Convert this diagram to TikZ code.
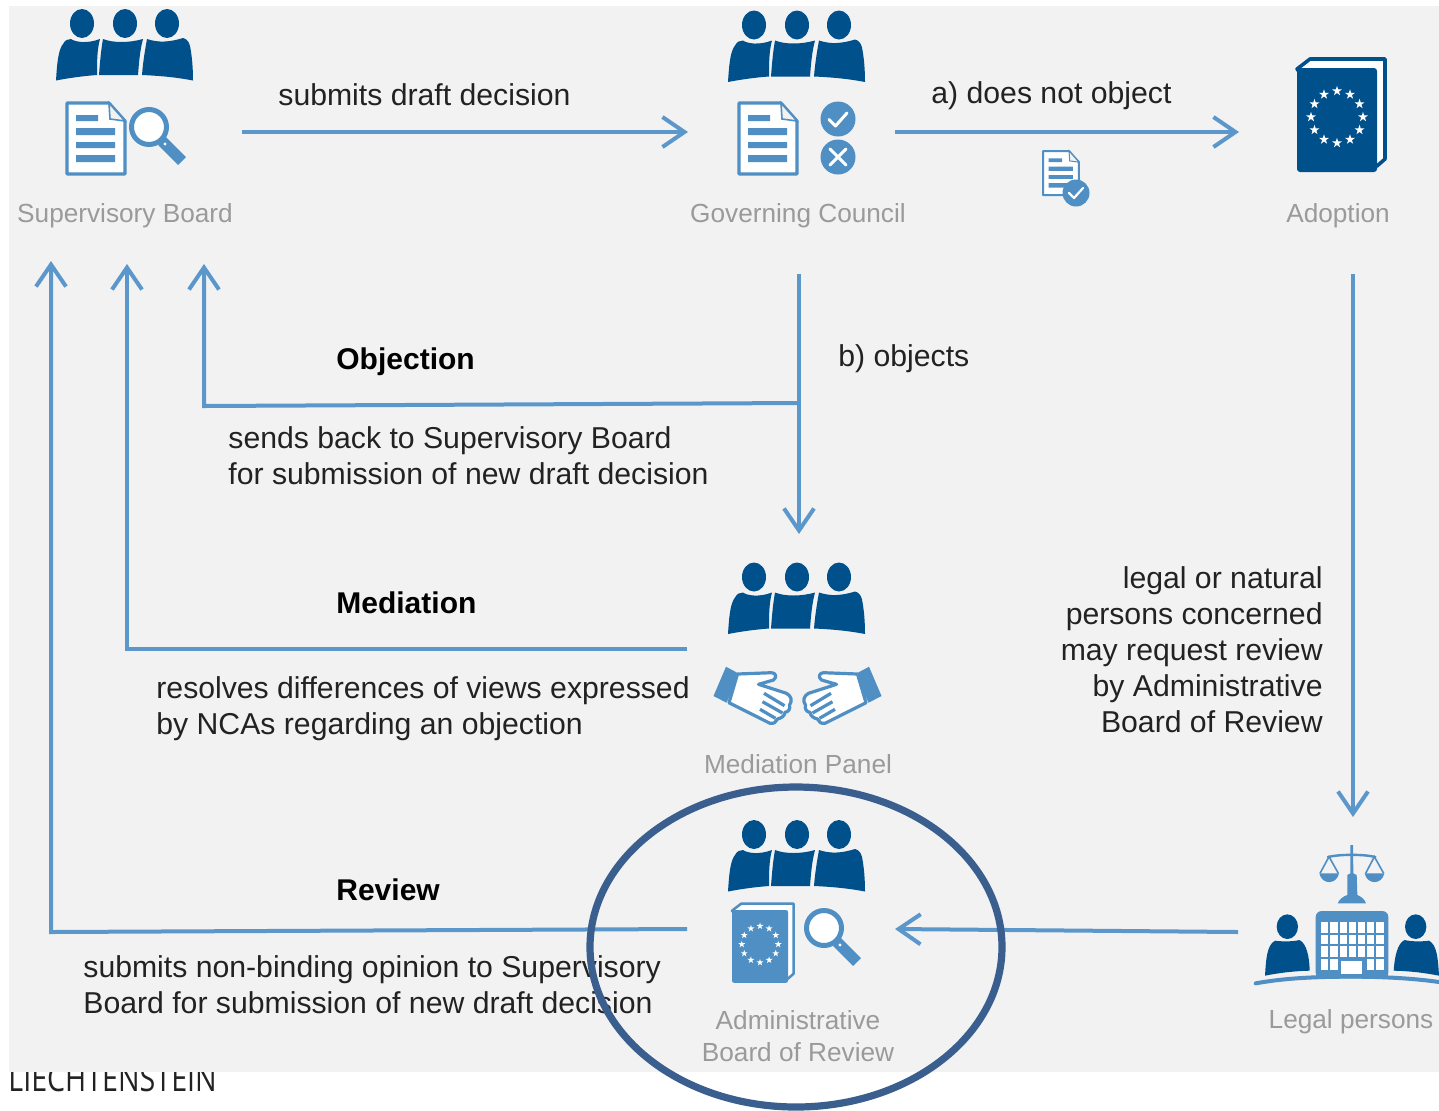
\documentclass[tikz,border=0pt]{standalone}
\usepackage{fontspec}
\setmainfont{Liberation Sans}
\newfontfamily\lieFont{Open Sans}[FakeStretch=0.8]
\usetikzlibrary{arrows.meta}
\definecolor{bgc}{HTML}{F2F2F2}
\definecolor{dk}{HTML}{00508C}
\definecolor{lt}{HTML}{4F8FC4}
\definecolor{arr}{HTML}{5B97CA}
\definecolor{ov}{HTML}{3A5F8F}
\definecolor{gry}{HTML}{9A9A9A}
\definecolor{blk}{HTML}{222222}
\tikzset{
  conn/.style={draw=arr,line width=2pt},
  arrowed/.style={conn,-{Straight Barb[length=11pt,width=15pt]}},
  lbl/.style={font=\fontsize{15.1}{18}\selectfont,text=blk,inner sep=0pt},
  captxt/.style={font=\fontsize{13.1}{14.5}\selectfont,text=gry,inner sep=0pt,anchor=base,align=center},
  headtxt/.style={font=\bfseries\fontsize{15}{18}\selectfont,text=black,inner sep=0pt,anchor=base west},
  people/.pic={
    \fill[dk] (-43,23.5) ellipse (12 and 14.5) (0,23.5) ellipse (12 and 14.5) (42,23.5) ellipse (12 and 14.5);
    \fill[dk] (-69,80.5) .. controls (-68,65) and (-67,50) .. (-62,44) .. controls (-60,40) and (-57,39) .. (-54,39) .. controls (-50,42) and (-38,44) .. (-25,39) .. controls (-28,50) and (-28,62) .. (-28,75) .. controls (-42,76) and (-56,78) .. (-69,80.5) -- cycle;
    \fill[dk] (-22,39) .. controls (-12,43) and (4,43) .. (18,39) .. controls (15,50) and (14,62) .. (13,75) -- (-26,75) .. controls (-25,62) and (-24,50) .. (-22,39) -- cycle;
    \fill[dk] (22,39) .. controls (34,43) and (45,42) .. (58,38) .. controls (62,39) and (64,42) .. (65,46) .. controls (67,56) and (68,68) .. (68,80.5) .. controls (55,78) and (40,76) .. (17,75) .. controls (18,62) and (20,50) .. (22,39) -- cycle;
  },
  glass/.pic={
    \draw[lt,line width=5.5pt,line cap=butt] (13,14) -- (33,34);
    \fill[white] (16,17) circle (1.6);
    \draw[lt,line width=2.5pt,fill=white] (0,0) circle (17.5);
  },
}
\newcommand{\docicon}[3]{\begin{scope}[shift={(#1,#2)},scale=#3]
  \filldraw[fill=white,draw=lt,line width=#3*1.6pt,line join=round] (0,0) -- (42,0) -- (58,18) -- (58,71) -- (0,71) -- cycle;
  \filldraw[fill=bgc,draw=lt,line width=#3*.8pt] (42,0) -- (43,16) -- (58,18) -- cycle;
  \fill[lt] (9,12) rectangle (31,18) (9,25) rectangle (48,32) (9,39) rectangle (48,45) (9,52) rectangle (48,59);
\end{scope}}
\newcommand{\bookicon}[4]{\begin{scope}[shift={(#1,#2)},scale=#3]
  \filldraw[fill=white,draw=#4,line width=#3*1.8pt,line join=round] (0,11) -- (13,1) -- (88,1) -- (88,101) -- (80,108) -- cycle;
  \fill[#4,rounded corners=#3*1.5pt] (0,10) rectangle (80,114);
  \begin{scope}[shift={(40,59)}]
  \foreach \a in {0,30,...,330}
    \fill[white,shift={(\a:26)}] (270:5.2) -- (54:5.2) -- (198:5.2) -- (342:5.2) -- (126:5.2) -- cycle;
  \end{scope}
\end{scope}}
\newcommand{\hand}[1]{\begin{scope}[shift={(797.5,550)},xscale=#1]
  \fill[lt] (-71.5,116.7) -- (-84,146) -- (-71,152.7) -- (-58,124) -- cycle;
  \filldraw[fill=white,draw=lt,line width=1.6pt,line join=round] (-60,124) -- (-26,122.7) .. controls (-22,122.7) and (-20,127) .. (-24,130) -- (-39,134.3) -- (-11,143.3) .. controls (-6,146) and (-5,151) .. (-8,155) .. controls (-7,159) and (-9,162) .. (-12.5,162.3) .. controls (-13,166) and (-16,168) .. (-20,169) .. controls (-21,172) and (-24,174) .. (-27.5,173.3) -- (-68.5,152.7) -- cycle;
  \draw[lt,line width=1.6pt] (-33.5,143.3) -- (-13,155.7) (-35,151.7) -- (-15,163) (-37.5,159.3) -- (-22,168.3);
\end{scope}}
\begin{document}
\begin{tikzpicture}[x=0.5pt,y=-0.5pt]
\useasboundingbox (0,0) rectangle (1439,1110);
\fill[white] (0,0) rectangle (1439,1110);
\node[inner sep=0pt,anchor=base west,text=blk,font=\lieFont\fontsize{17.9}{18}\selectfont] (lie) at (8,1091) {LIECHTENSTEIN};
\fill[bgc] (9,6) rectangle (1439,1072);

% icons
\pic at (125,0) {people};
\pic at (797,1.5) {people};
\pic at (797,553.5) {people};
\pic at (797,811) {people};
\docicon{67}{103}{1}
\pic at (149,127) {glass};
\docicon{739}{103}{1}
\fill[lt] (838,119) circle (17.5) (838,157) circle (17.5);
\draw[white,line width=1.5pt,line cap=round,line join=round] (829,119.5) -- (835.5,126) -- (847,113);
\draw[white,line width=1.5pt,line cap=round] (830,149) -- (846,165) (846,149) -- (830,165);
\docicon{1043}{151}{.62}
\fill[lt] (1076,193) circle (13.5);
\draw[white,line width=1.1pt,line cap=round,line join=round] (1069,193) -- (1074,198) -- (1083,188);
\bookicon{1297}{58}{1}{dk}
\bookicon{732}{903}{.7}{lt}
\pic at (824,928) {glass};
\hand{1}
\hand{-1}

% legal persons icon
\begin{scope}[shift={(1240,830)},scale=1/3]
  \fill[lt] (331,45) -- (339,45) -- (340,130) -- (350,135) -- (352,195) .. controls (365,200) and (375,210) .. (378,220) -- (293,220) .. controls (296,210) and (310,198) .. (322,195) -- (322,135) -- (331,130) -- cycle;
  \draw[lt,line width=1.2pt] (262,82) .. controls (290,72) and (380,72) .. (408,82);
  \draw[lt,line width=.8pt] (240,130) -- (267,80) -- (295,130) (377,130) -- (403,80) -- (431,130);
  \fill[lt] (238,130) .. controls (245,165) and (290,165) .. (297,130) -- cycle;
  \fill[lt] (374,130) .. controls (381,165) and (426,165) .. (433,130) -- cycle;
  \fill[lt,rounded corners=3pt] (227,243) rectangle (445,445);
  \fill[lt] (227,425) rectangle (445,445);
  \foreach \yA/\yB in {277/310,316/343,349/382}
    \foreach \xA in {243,271,299,326,354,381,409}
      \fill[white] (\xA,\yA) rectangle ++(22,\yB-\yA);
  \foreach \xA in {243,271,381,409}
    \fill[white] (\xA,388) rectangle ++(22,33);
  \fill[white] (303,393) rectangle (365,433);
  \fill[dk] (142,290) ellipse (32 and 37) (527,290) ellipse (32 and 37);
  \fill[dk] (75,437) .. controls (78,390) and (80,345) .. (105,332) .. controls (125,335) and (160,335) .. (178,330) .. controls (200,340) and (208,380) .. (209,422) .. controls (165,423) and (120,428) .. (75,437) -- cycle;
  \fill[dk] (597,437) .. controls (594,390) and (592,345) .. (567,332) .. controls (547,335) and (512,335) .. (494,330) .. controls (472,340) and (464,380) .. (461,422) .. controls (507,423) and (552,428) .. (597,437) -- cycle;
  \draw[lt,line width=2pt,line cap=round] (47,460) .. controls (130,445) and (220,440) .. (335,440) .. controls (430,440) and (520,445) .. (597,456);
\end{scope}

% captions
\node[captxt] (sb) at (125,222) {Supervisory Board};
\node[captxt] (gc) at (798,222) {Governing Council};
\node[captxt] (ad) at (1338,222) {Adoption};
\node[captxt] (mp) at (798,773) {Mediation Panel};
\node[captxt] (ab) at (798,1029) {Administrative};
\node[captxt] (ab2) at (798,1061) {Board of Review};
\node[captxt] (lp) at (1351,1028) {Legal persons};

% connector ends
\coordinate (a1) at (242,132); \coordinate (a2) at (688,132);
\coordinate (b1) at (895,132); \coordinate (b2) at (1239,132);
\coordinate (c1) at (799,274); \coordinate (c2) at (799,534);
\coordinate (d1) at (799,403); \coordinate (d2) at (204,406); \coordinate (d3) at (204,264);
\coordinate (e1) at (687,649); \coordinate (e2) at (127,649); \coordinate (e3) at (127,264);
\coordinate (f1) at (687,929); \coordinate (f2) at (51,932); \coordinate (f3) at (51,261);
\coordinate (g1) at (1353,274); \coordinate (g2) at (1353,817);
\coordinate (h1) at (1238,932); \coordinate (h2) at (895,929);

\draw[arrowed] (a1) -- (a2);
\draw[arrowed] (b1) -- (b2);
\draw[arrowed] (c1) -- (c2);
\draw[arrowed] (d1) -- (d2) -- (d3);
\draw[arrowed] (e1) -- (e2) -- (e3);
\draw[arrowed] (f1) -- (f2) -- (f3);
\draw[arrowed] (g1) -- (g2);
\draw[arrowed] (h1) -- (h2);

% labels
\node[lbl,anchor=base west] (t1) at (278,105) {submits draft decision};
\node[lbl,anchor=base west] (t2) at (931,103) {a) does not object};
\node[lbl,anchor=base west] (t3) at (838,366) {b) objects};
\node[headtxt] (t4) at (336,369) {Objection};
\node[lbl,anchor=north west,align=left] (t5) at (228,426.5) {sends back to Supervisory Board\\for submission of new draft decision};
\node[headtxt] (t6) at (336,613) {Mediation};
\node[lbl,anchor=north west,align=left] (t7) at (156,676) {resolves differences of views expressed\\by NCAs regarding an objection};
\node[headtxt] (t8) at (336,900) {Review};
\node[lbl,anchor=north west,align=left] (t9) at (83,955) {submits non-binding opinion to Supervisory\\Board for submission of new draft decision};
\node[lbl,anchor=north east,align=right] (t10) at (1323,566) {legal or natural\\persons concerned\\may request review\\by Administrative\\Board of Review};

\draw[ov,line width=3.6pt] (796,947) ellipse (206 and 160);
\end{tikzpicture}
\end{document}
